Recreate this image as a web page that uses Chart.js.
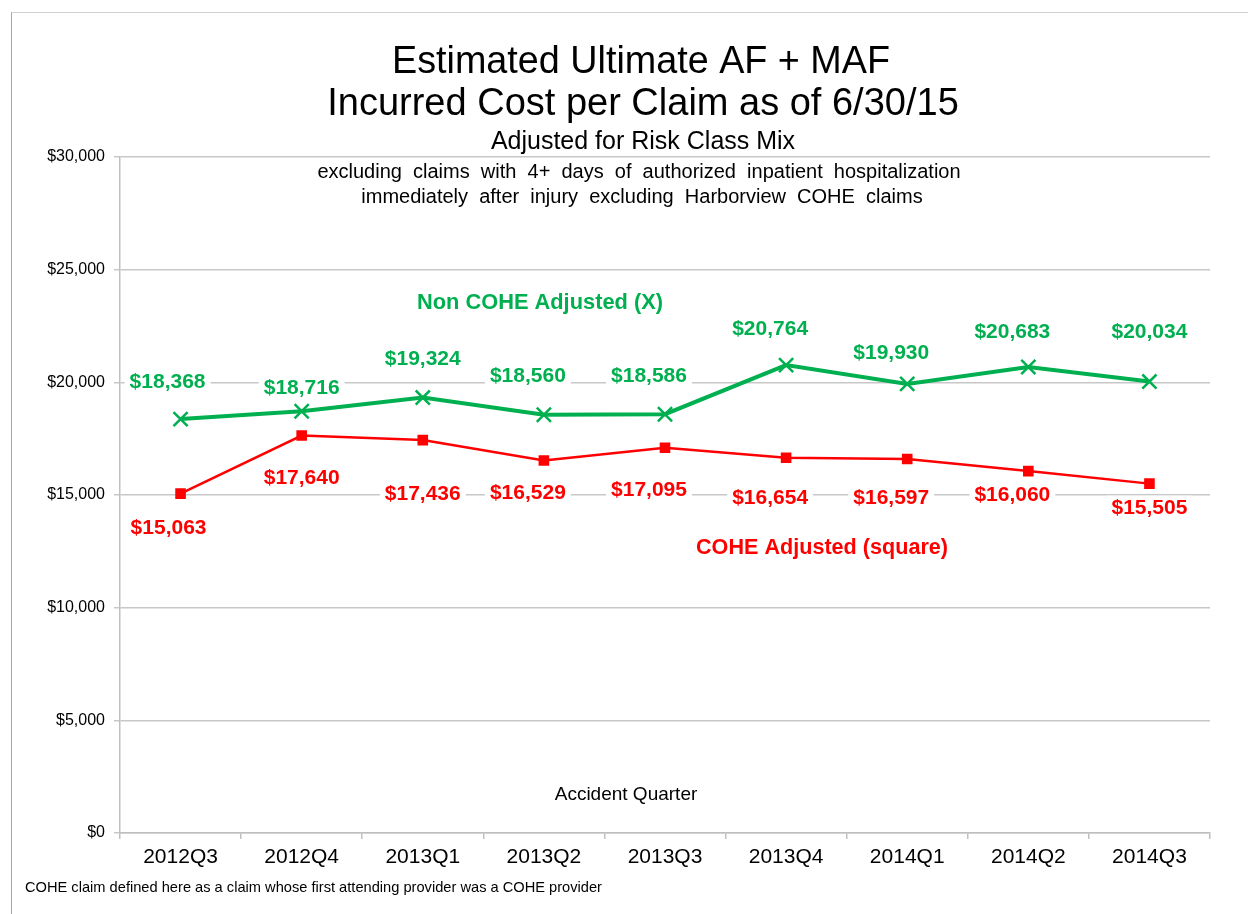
<!DOCTYPE html>
<html>
<head>
<meta charset="utf-8">
<script src="https://cdn.jsdelivr.net/npm/chart.js@4.4.0/dist/chart.umd.min.js"></script>
<style>
  html, body { margin: 0; padding: 0; background: #fff; }
  #wrap { position: relative; width: 1248px; height: 914px; }
  #frame { position: absolute; left: 11px; top: 12px; width: 1300px; height: 1000px;
           border-left: 1.5px solid #a6a6a6; border-top: 1.5px solid #d0d0d0; }
  canvas { position: absolute; left: 0; top: 0; }
</style>
</head>
<body>
<div id="wrap">
  <div id="frame"></div>
  <canvas id="costChart" width="1248" height="914"></canvas>
</div>
<script>
// data
const quarters = ['2012Q3', '2012Q4', '2013Q1', '2013Q2', '2013Q3', '2013Q4', '2014Q1', '2014Q2', '2014Q3'];
const nonCoheAdjusted = [18368, 18716, 19324, 18560, 18586, 20764, 19930, 20683, 20034];
const coheAdjusted = [15063, 17640, 17436, 16529, 17095, 16654, 16597, 16060, 15505];
const yTicks = [0, 5000, 10000, 15000, 20000, 25000, 30000];

// label placement (pixel offsets from each point)
const greenLabelDx = [-13, 0, 0, -16, -16, -16, -16, -16, 0];
const greenLabelDy = [-38, -24, -39, -40, -39, -37, -32, -36, -50];
const redLabelDx = [-12, 0, 0, -16, -16, -16, -16, -16, 0];
const redLabelDy = [34, 42, 53, 32, 41, 39, 38, 23, 24];

const GREEN = '#00B050';
const RED = '#FF0000';
const FONT = '"Liberation Sans", Arial, sans-serif';

function money(v) {
    return '$' + v.toLocaleString('en-US');
}

// texts drawn over the chart
const textPlugin = {
    id: 'texts',
    afterDraw(chart) {
        const ctx = chart.ctx;
        ctx.save();
        ctx.textBaseline = 'middle';
        ctx.textAlign = 'center';
        ctx.fillStyle = '#000';
        ctx.font = '38px ' + FONT;
        ctx.fillText('Estimated Ultimate AF + MAF', 641, 63, 498);
        ctx.fillText('Incurred Cost per Claim as of 6/30/15', 643, 105, 634);
        ctx.font = '25px ' + FONT;
        ctx.fillText('Adjusted for Risk Class Mix', 643, 142, 330);
        ctx.font = '20px ' + FONT;
        ctx.fillText('excluding  claims  with  4+  days  of  authorized  inpatient  hospitalization', 639, 172, 650);
        ctx.fillText('immediately  after  injury  excluding  Harborview  COHE  claims', 642, 197, 576);

        ctx.font = 'bold 22px ' + FONT;
        ctx.fillStyle = GREEN;
        ctx.fillText('Non COHE Adjusted (X)', 540, 303, 246);
        ctx.fillStyle = RED;
        ctx.fillText('COHE Adjusted (square)', 822, 548, 252);

        ctx.fillStyle = '#000';
        ctx.font = '19px ' + FONT;
        ctx.fillText('Accident Quarter', 626, 795, 144);
        ctx.textAlign = 'left';
        ctx.font = '15px ' + FONT;
        ctx.fillText('COHE claim defined here as a claim whose first attending provider was a COHE provider', 25, 888, 577);

        // point value labels with white boxes
        const sets = [
            { idx: 0, vals: nonCoheAdjusted, dx: greenLabelDx, dy: greenLabelDy, color: GREEN },
            { idx: 1, vals: coheAdjusted, dx: redLabelDx, dy: redLabelDy, color: RED }
        ];
        ctx.font = 'bold 21px ' + FONT;
        ctx.textAlign = 'center';
        sets.forEach(s => {
            const meta = chart.getDatasetMeta(s.idx);
            meta.data.forEach((pt, i) => {
                const txt = money(s.vals[i]);
                const x = pt.x + s.dx[i];
                const y = pt.y + s.dy[i];
                const w = ctx.measureText(txt).width;
                ctx.fillStyle = '#fff';
                ctx.fillRect(x - w / 2 - 5, y - 12, w + 10, 24);
                ctx.fillStyle = s.color;
                ctx.fillText(txt, x, y + 1, 76);
            });
        });
        ctx.restore();
    }
};

const costChart = new Chart(document.getElementById('costChart').getContext('2d'), {
    type: 'line',
    data: {
        labels: quarters,
        datasets: [
            {
                label: 'Non COHE Adjusted (X)',
                data: nonCoheAdjusted,
                borderColor: GREEN,
                borderWidth: 4,
                pointStyle: 'crossRot',
                pointRadius: 10,
                pointBorderWidth: 2.5,
                pointBorderColor: GREEN,
                pointBackgroundColor: GREEN,
                tension: 0
            },
            {
                label: 'COHE Adjusted (square)',
                data: coheAdjusted,
                borderColor: RED,
                borderWidth: 2.5,
                pointStyle: 'rect',
                pointRadius: 7.5,
                pointBorderWidth: 0,
                pointBackgroundColor: RED,
                tension: 0
            }
        ]
    },
    options: {
        responsive: false,
        animation: false,
        layout: {
            padding: { left: 0, top: 157, right: 38, bottom: 0 }
        },
        plugins: {
            legend: { display: false },
            title: { display: false },
            tooltip: { enabled: false }
        },
        scales: {
            x: {
                offset: true,
                afterFit(scale) { scale.height = 81; },
                grid: {
                    offset: true,
                    drawOnChartArea: false,
                    color: '#bfbfbf',
                    tickLength: 6,
                    lineWidth: 1.5
                },
                border: { color: '#bfbfbf', width: 1.5 },
                ticks: {
                    color: '#000',
                    font: { family: FONT, size: 21 },
                    padding: 6,
                    maxRotation: 0
                }
            },
            y: {
                min: 0,
                max: 30000,
                afterFit(scale) { scale.width = 120; },
                afterBuildTicks(scale) {
                    scale.ticks = yTicks.map(v => ({ value: v }));
                },
                grid: {
                    color: '#c8c8c8',
                    lineWidth: 1.5,
                    tickLength: 6
                },
                border: { color: '#bfbfbf', width: 1.5 },
                ticks: {
                    color: '#000',
                    font: { family: FONT, size: 16 },
                    padding: 9,
                    callback: v => money(v)
                }
            }
        }
    },
    plugins: [textPlugin]
});
</script>
</body>
</html>
